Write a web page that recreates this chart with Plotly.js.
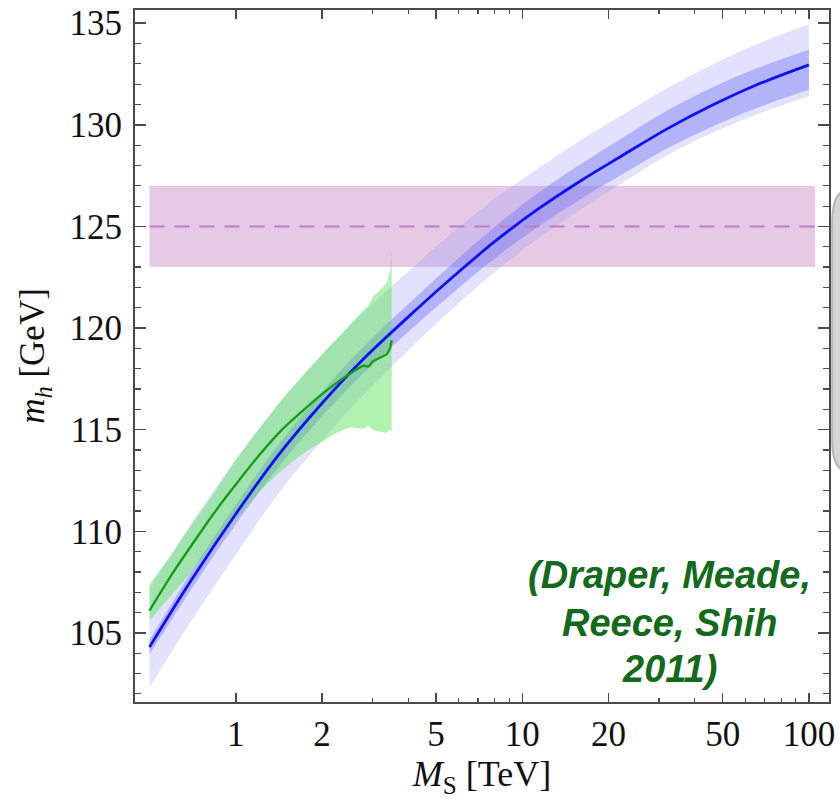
<!DOCTYPE html>
<html>
<head>
<meta charset="utf-8">
<script src="https://cdn.plot.ly/plotly-3.0.1.min.js"></script>
<style>html,body{margin:0;padding:0;background:#fff;}#chart{width:840px;height:801px;}</style>
</head>
<body>
<div id="chart"></div>
<script>
// ---- Data ----
// Blue: EFT prediction, central line and two uncertainty bands
const msBlue      = [0.5, 0.7, 1, 1.4, 2, 2.8, 4, 5.6, 8, 11.2, 16, 22.4, 32, 45, 64, 100];
const mhBlue      = [104.3, 107.6, 110.85, 113.7, 116.3, 118.5, 120.55, 122.4, 124.25, 125.8, 127.25, 128.5, 129.8, 130.9, 131.9, 132.95];
const blueLightHi = [107.2, 110.4, 113.55, 116.2, 118.7, 120.8, 122.8, 124.6, 126.35, 127.8, 129.25, 130.5, 131.8, 132.9, 133.9, 134.95];
const blueLightLo = [102.3, 105.6, 108.85, 111.8, 114.45, 116.75, 118.9, 120.85, 122.75, 124.35, 125.85, 127.15, 128.5, 129.55, 130.45, 131.4];
const blueDarkHi  = [104.65, 108.0, 111.3, 114.2, 116.85, 119.1, 121.18, 123.07, 124.97, 126.58, 128.07, 129.37, 130.7, 131.77, 132.72, 133.7];
const blueDarkLo  = [103.95, 107.15, 110.35, 113.12, 115.66, 117.8, 119.82, 121.62, 123.42, 124.93, 126.35, 127.58, 128.83, 129.85, 130.77, 131.72];

// Green: Draper, Meade, Reece, Shih 2011
const msGreen     = [0.5, 0.6, 0.7, 0.85, 1.0, 1.2, 1.45, 1.75, 2.0, 2.25, 2.5, 2.8, 2.9, 3.0, 3.2, 3.35, 3.45, 3.5];
const mhGreen     = [106.1, 107.9, 109.3, 111.0, 112.3, 113.7, 115.0, 116.05, 116.75, 117.3, 117.75, 118.15, 118.1, 118.35, 118.55, 118.7, 119.0, 119.4];
const greenHi     = [107.4, 108.9, 110.3, 112.0, 113.5, 115.0, 116.5, 117.8, 118.7, 119.45, 120.15, 120.9, 121.1, 121.5, 121.9, 122.2, 122.8, 123.8];
const greenLo     = [105.6, 106.9, 108.0, 109.5, 110.6, 111.9, 113.0, 113.9, 114.4, 114.85, 115.1, 115.05, 115.2, 115.0, 114.9, 114.85, 115.0, 114.9];

// Purple: measured Higgs mass with band
const msExp       = [0.5, 105];
const mhExp       = [125, 125];
const expLo       = [123, 123];
const expHi       = [127, 127];

// Axis ticks
const xTickVals   = [1, 2, 5, 10, 20, 50, 100];
const xTickText   = ['1', '2', '5', '10', '20', '50', '100'];
const xMinorVals  = [3, 4, 6, 7, 8, 9, 30, 40, 60, 70, 80, 90];
const yTickVals   = [105, 110, 115, 120, 125, 130, 135];

// Annotation lines
const noteLines   = ['(Draper, Meade,', 'Reece, Shih', '2011)'];

// ---- Traces ----
const sp = {shape: 'spline', smoothing: 1};
const traces = [
  {x: msExp, y: expLo, mode: 'lines', line: {width: 0}, hoverinfo: 'skip'},
  {x: msExp, y: expHi, mode: 'lines', line: {width: 0}, fill: 'tonexty', fillcolor: 'rgba(190,120,190,0.4)', hoverinfo: 'skip'},
  {x: msBlue, y: blueLightLo, mode: 'lines', line: Object.assign({width: 0}, sp), hoverinfo: 'skip'},
  {x: msBlue, y: blueLightHi, mode: 'lines', line: Object.assign({width: 0}, sp), fill: 'tonexty', fillcolor: 'rgba(160,160,245,0.3)', hoverinfo: 'skip'},
  {x: msBlue, y: blueDarkLo, mode: 'lines', line: Object.assign({width: 0}, sp), hoverinfo: 'skip'},
  {x: msBlue, y: blueDarkHi, mode: 'lines', line: Object.assign({width: 0}, sp), fill: 'tonexty', fillcolor: 'rgba(110,110,245,0.4)', hoverinfo: 'skip'},
  {x: msGreen, y: greenLo, mode: 'lines', line: {width: 0, shape: 'spline', smoothing: 0.6}, hoverinfo: 'skip'},
  {x: msGreen, y: greenHi, mode: 'lines', line: {width: 0, shape: 'spline', smoothing: 0.6}, fill: 'tonexty', fillcolor: 'rgba(80,228,80,0.45)', hoverinfo: 'skip'},
  {x: msExp, y: mhExp, mode: 'lines', line: {color: '#c07ccc', width: 2, dash: '15px,10px'}},
  {x: msBlue, y: mhBlue, mode: 'lines', line: {color: '#1010f0', width: 2.8, shape: 'spline', smoothing: 1}},
  {x: msGreen, y: mhGreen, mode: 'lines', line: {color: '#169c16', width: 2.3, shape: 'spline', smoothing: 0.6}}
];

const serif = 'Liberation Serif, Times New Roman, serif';
const axisCommon = {
  showline: true, linecolor: '#4a4a4a', linewidth: 2, mirror: 'ticks',
  ticks: 'inside', tickcolor: '#4a4a4a', tickwidth: 1.5,
  showgrid: false, zeroline: false,
  tickfont: {family: serif, size: 35, color: '#111'}
};

const noteY = [575, 623, 669];
const layout = {
  width: 840, height: 801,
  margin: {l: 135, r: 11, t: 10, b: 99},
  paper_bgcolor: '#fff', plot_bgcolor: '#fff',
  showlegend: false,
  xaxis: Object.assign({}, axisCommon, {
    type: 'log', range: [Math.log10(0.445), Math.log10(117.5)],
    tickmode: 'array', tickvals: xTickVals, ticktext: xTickText, ticklen: 9,
    ticklabelstandoff: 0,
    minor: {tickmode: 'array', tickvals: xMinorVals, ticklen: 4, ticks: 'inside', tickcolor: '#4a4a4a', tickwidth: 1.2},
    title: {text: '<i>M</i><sub>S</sub> [TeV]', font: {family: serif, size: 36, color: '#111'}, standoff: 8}
  }),
  yaxis: Object.assign({}, axisCommon, {
    range: [101.6, 135.65],
    tickmode: 'array', tickvals: yTickVals, ticklen: 11,
    ticklabelstandoff: 4,
    minor: {dtick: 1, ticklen: 6, ticks: 'inside', tickcolor: '#4a4a4a', tickwidth: 1.2},
    title: {text: '<i>m</i><sub><i>h</i></sub> [GeV]', font: {family: serif, size: 35, color: '#111'}, standoff: 14}
  }),
  annotations: noteLines.map((t, i) => ({
    xref: 'paper', yref: 'paper', x: (669 - 135) / 694, y: (702 - noteY[i]) / 692,
    xanchor: 'center', yanchor: 'middle', showarrow: false, align: 'center',
    text: '<b><i>' + t + '</i></b>',
    font: {family: 'Liberation Sans, Arial, sans-serif', size: 38, color: '#136a1c'}
  })),
  shapes: [{
    type: 'path', xref: 'paper', yref: 'paper', layer: 'above',
    path: 'M 1.0245,0.738 Q 1.0046,0.738 1.0046,0.69 L 1.0046,0.38 Q 1.0046,0.335 1.0245,0.335 Z',
    fillcolor: '#d6d6d6', line: {color: '#b5b5b5', width: 2}
  }]
};

Plotly.newPlot('chart', traces, layout, {staticPlot: true, displayModeBar: false});
</script>
</body>
</html>
